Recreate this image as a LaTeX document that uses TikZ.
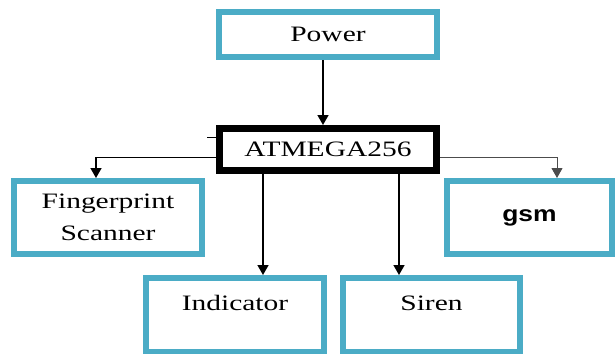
\documentclass[tikz,border=0pt]{standalone}
\usepackage{fontspec}
\setmainfont{Liberation Serif}[FakeStretch=1.34]
\newfontfamily\gsmfont{Liberation Sans}[FakeStretch=1.2]
\usepackage{tikz}
\usetikzlibrary{arrows.meta,positioning}
\definecolor{cBox}{RGB}{75,172,198}
\tikzset{
  blk/.style={draw=cBox, line width=6pt, fill=white, align=center,
              font=\fontsize{22}{32}\selectfont, inner sep=2pt},
  blkt/.style={blk, text height=15pt, text depth=25pt, inner ysep=17pt},
  mcu/.style={draw=black, line width=7pt, fill=white, align=center,
              font=\fontsize{22}{32}\selectfont},
  arr/.style={-{Triangle[length=10pt,width=11pt]}, line width=1.6pt},
  arrg/.style={arr, draw=black!70, line width=1pt},
  stub/.style={line width=1pt},
}

\begin{document}
\begin{tikzpicture}[x=1pt, y=-1pt, node distance=65pt]
  \useasboundingbox (0,0) rectangle (615,353);
  \node[mcu, minimum width=217pt, minimum height=42pt] (atm) at (328,149.5) {ATMEGA256};
  \node[blk, minimum width=218pt, minimum height=45pt, above=of atm] (pwr) {Power};
  \node[blk, minimum width=188pt, minimum height=73pt] (fp) at (108,217.5) {Fingerprint\\Scanner};
  \node[blk, minimum width=165pt, minimum height=73pt] (gsm) at (529.5,217.5) {\gsmfont\bfseries gsm};
  \node[blkt, minimum width=178pt] (ind) at (235,315) {Indicator};
  \node[blkt, minimum width=177pt] (sir) at (431.5,315) {Siren};
  \coordinate (stub) at (207,137);

  \draw[arr] ([xshift=-5pt]pwr.south) -- ([xshift=-5pt]atm.north);
  \draw[arr] ([yshift=-8pt]atm.west) -| ([xshift=-12pt]fp.north);
  \draw[arrg] ([yshift=-8pt]atm.east) -| ([xshift=27.5pt]gsm.north);
  \draw[arr] ([xshift=-65pt]atm.south) -- ([xshift=-65pt]atm.south |- ind.north);
  \draw[arr] ([xshift=71pt]atm.south) -- ([xshift=71pt]atm.south |- sir.north);
  \draw[stub] (stub) -- (stub -| atm.west);
\end{tikzpicture}
\end{document}
